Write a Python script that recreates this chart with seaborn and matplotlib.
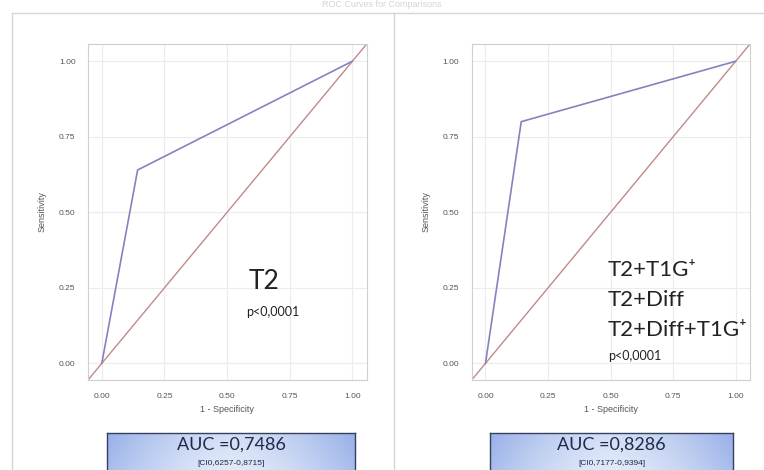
import numpy as np
import pandas as pd
import matplotlib
matplotlib.use("Agg")
import matplotlib.pyplot as plt
import seaborn as sns
from matplotlib.lines import Line2D

# ROC points (1 - specificity, sensitivity)
fpr_t2 = [0.0, 0.143, 1.0]
sens_t2 = [0.0, 0.64, 1.0]
fpr_comb = [0.0, 0.143, 1.0]
sens_comb = [0.0, 0.80, 1.0]

ticks = [0.0, 0.25, 0.50, 0.75, 1.00]
tick_labels = ["0.00", "0.25", "0.50", "0.75", "1.00"]

auc_labels = ["AUC =0,7486", "AUC =0,8286"]
ci_labels = ["[CI0,6257-0,8715]", "[CI0,7177-0,9394]"]
model_labels = [["T2"], ["T2+T1G\u207a", "T2+Diff", "T2+Diff+T1G\u207a"]]
p_label = "p<0,0001"

sns.set_style("whitegrid")
plt.rcParams['font.family'] = ['Liberation Sans', 'DejaVu Sans']

fig = plt.figure(figsize=(7.64, 4.70), dpi=100)

W, H = 764.0, 470.0
def fbox(x0, y0, x1, y1):
    return [x0 / W, 1 - y1 / H, (x1 - x0) / W, (y1 - y0) / H]

# faint title at the very top
fig.text(0.5, 0.999, "ROC Curves for Comparisons", ha="center", va="top",
         fontsize=6.5, color="#d4d4d4")

# outer panel frames
lc = "#d6d6d6"
fig.add_artist(Line2D([12 / W, 764 / W], [1 - 13 / H, 1 - 13 / H], color=lc, lw=1))
fig.add_artist(Line2D([12 / W, 12 / W], [0, 1 - 13 / H], color=lc, lw=1))
fig.add_artist(Line2D([394 / W, 394 / W], [0, 1 - 13 / H], color=lc, lw=1))

ax_l = fig.add_axes(fbox(88, 44, 366.7, 380))
ax_r = fig.add_axes(fbox(471.7, 44, 750, 380))

lim = (-0.055, 1.057)
curve_col = "#8383c0"
diag_col = "#c08a8a"

panels = [
    (ax_l, fpr_t2, sens_t2),
    (ax_r, fpr_comb, sens_comb),
]

for ax, fx, sy in panels:
    df = pd.DataFrame({"fpr": fx, "sens": sy})
    ax.plot(lim, lim, color=diag_col, lw=1.0, zorder=2)
    sns.lineplot(data=df, x="fpr", y="sens", ax=ax, color=curve_col, lw=1.2,
                 sort=False, estimator=None, zorder=3)
    ax.set_xlim(lim)
    ax.set_ylim(lim)
    ax.set_xticks(ticks)
    ax.set_yticks(ticks)
    ax.set_xticklabels(tick_labels)
    ax.set_yticklabels(tick_labels)
    ax.tick_params(axis="both", labelsize=6, colors="#555555", length=3,
                   width=0.6, color="#bbbbbb", pad=6)
    ax.grid(True, color="#ececec", lw=0.8)
    for s in ax.spines.values():
        s.set_color("#cfcfcf")
        s.set_linewidth(0.8)
    ax.set_xlabel("1 - Specificity", fontsize=6.5, color="#555555", labelpad=4)
    ax.set_ylabel("Sensitivity", fontsize=6.5, color="#555555", labelpad=9)

# model annotations
ax_l.text(0.585, 0.27, model_labels[0][0], fontsize=19, color="#222222",
          family=["Lato", "DejaVu Sans"], va="center")
ax_l.text(0.575, 0.17, p_label, fontsize=9, color="#222222",
          family=["Lato", "DejaVu Sans"], va="center")
for i, lab in enumerate(model_labels[1]):
    ax_r.text(0.49, 0.31 - i * 0.10, lab, fontsize=16, color="#222222",
              family=["Lato", "DejaVu Sans"], va="center")
ax_r.text(0.49, 0.025, p_label, fontsize=9, color="#222222",
          family=["Lato", "DejaVu Sans"], va="center")

# AUC boxes with gradient fill
xs = np.linspace(-1, 1, 200)
ys = np.linspace(0, 1, 40)
gx, gy = np.meshgrid(xs, ys)
w = np.clip(0.25 + 0.75 * np.abs(gx) ** 1.5 - 0.25 * gy, 0, 1)
blue = np.array([0.60, 0.69, 0.91])
white = np.array([0.90, 0.93, 0.98])
img = white[None, None, :] * (1 - w[..., None]) + blue[None, None, :] * w[..., None]

for (x0, x1), auc, ci in zip([(107, 355), (490, 733)], auc_labels, ci_labels):
    bx = fig.add_axes(fbox(x0, 433, x1, 478))
    bx.imshow(img, aspect="auto", extent=(0, 1, 0, 1), origin="upper")
    bx.set_xlim(0, 1)
    bx.set_ylim(0, 1)
    bx.set_xticks([])
    bx.set_yticks([])
    bx.grid(False)
    for s in bx.spines.values():
        s.set_color("#34405f")
        s.set_linewidth(1.0)
    bx.text(0.5, 0.75, auc, ha="center", va="center", fontsize=13,
            color="#1e2a4a", family=["Lato", "DejaVu Sans"])
    bx.text(0.5, 0.32, ci, ha="center", va="center", fontsize=6,
            color="#1e2a4a")

fig.savefig("out.png", dpi=100)
